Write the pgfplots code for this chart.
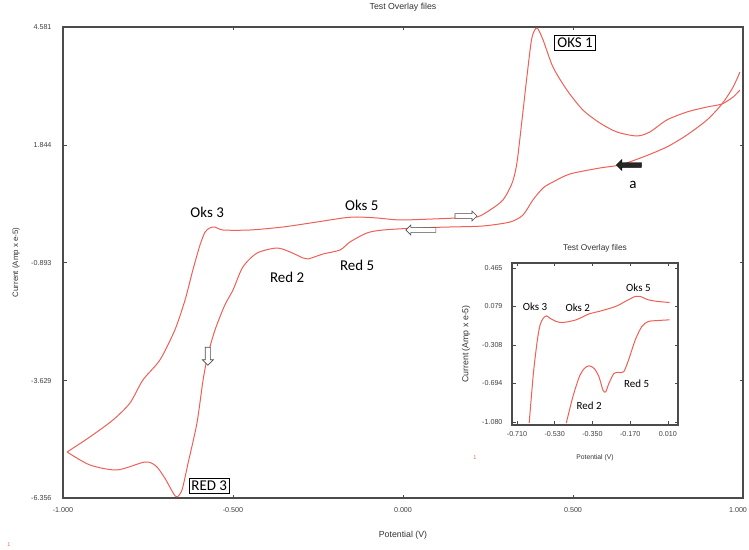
\documentclass[border=0pt]{standalone}
\usepackage{pgfplots}
\pgfplotsset{compat=1.18}
\usepackage{fontspec}
\setmainfont{Liberation Sans}
\newfontfamily\notefont{Carlito}
\usetikzlibrary{shapes.arrows}
\definecolor{cvred}{RGB}{238,96,86}
\definecolor{framegray}{RGB}{75,75,75}

% forward (anodic) and reverse (cathodic) branches of the voltammogram
\pgfplotstableread{
x y
-0.988 -5.287
-0.921 -4.939
-0.853 -4.544
-0.803 -4.150
-0.765 -3.616
-0.715 -3.151
-0.671 -2.455
-0.641 -1.758
-0.618 -1.061
-0.597 -0.481
-0.582 -0.179
-0.568 -0.086
-0.553 -0.063
-0.529 -0.133
-0.450 -0.133
-0.353 -0.063
-0.253 0.053
-0.176 0.146
-0.135 0.169
-0.076 0.146
-0.009 0.100
0.088 0.123
0.159 0.146
0.218 0.169
0.256 0.332
0.294 0.564
0.321 0.959
0.335 1.423
0.350 2.422
0.365 3.466
0.379 4.326
0.394 4.558
0.412 4.279
0.441 3.652
0.482 3.118
0.529 2.654
0.579 2.352
0.629 2.143
0.688 2.050
0.726 2.143
0.776 2.422
0.835 2.607
0.894 2.723
0.938 2.793
0.971 2.956
0.991 3.118
}\anodic

\pgfplotstableread{
x y
-0.988 -5.287
-0.921 -5.589
-0.841 -5.705
-0.759 -5.520
-0.727 -5.610
-0.700 -5.900
-0.676 -6.240
-0.665 -6.330
-0.650 -6.170
-0.632 -5.543
-0.606 -4.614
-0.588 -3.616
-0.574 -3.035
-0.553 -2.455
-0.524 -1.874
-0.500 -1.526
-0.471 -0.992
-0.429 -0.667
-0.371 -0.551
-0.332 -0.644
-0.294 -0.783
-0.279 -0.806
-0.235 -0.690
-0.185 -0.597
-0.156 -0.411
-0.106 -0.202
-0.059 -0.133
0.041 -0.086
0.138 -0.063
0.235 -0.040
0.315 0.053
0.353 0.216
0.382 0.564
0.412 0.843
0.441 0.982
0.491 1.168
0.579 1.307
0.638 1.377
0.706 1.562
0.776 1.795
0.835 2.073
0.894 2.422
0.938 2.793
0.971 3.188
0.991 3.536
}\cathodic

% enlarged window, -0.71 V to 0.01 V
\pgfplotstableread{
x y
-0.652 -1.091
-0.632 -0.593
-0.613 -0.257
-0.600 -0.106
-0.585 -0.039
-0.569 -0.015
-0.553 -0.039
-0.522 -0.072
-0.491 -0.082
-0.428 -0.055
-0.366 0.005
-0.319 0.029
-0.240 0.079
-0.194 0.129
-0.146 0.180
-0.123 0.180
-0.084 0.146
-0.037 0.129
0.018 0.119
}\zoomanodic

\pgfplotstableread{
x y
-0.475 -1.091
-0.444 -0.829
-0.413 -0.627
-0.389 -0.543
-0.366 -0.516
-0.342 -0.543
-0.319 -0.627
-0.300 -0.761
-0.287 -0.778
-0.272 -0.694
-0.248 -0.593
-0.225 -0.583
-0.201 -0.576
-0.178 -0.459
-0.146 -0.257
-0.115 -0.123
-0.084 -0.072
-0.037 -0.062
0.018 -0.055
}\zoomcathodic

\pgfplotsset{
  cvframe/.style={
    scale only axis,
    axis line style={framegray, line width=1.1bp},
    tick style={framegray, line width=0.6bp},
    major tick length=3.5bp,
    tick align=inside,
    ticklabel style={font=\fontsize{7.2}{8}\selectfont, text=black!75},
  },
  cvline/.style={cvred, line width=1.0bp, smooth, tension=0.45, no markers},
}

\begin{document}
\begin{tikzpicture}
\path[use as bounding box] (0,0) rectangle (749bp,550bp);

\begin{axis}[
  cvframe,
  at={(63bp,52bp)}, anchor=south west,
  width=680bp, height=471bp,
  xmin=-1, xmax=1, ymin=-6.356, ymax=4.581,
  xtick={-1,-0.5,0,0.5,1},
  xticklabels={-1.000,-0.500,0.000,0.500,\makebox[0pt][c]{\hspace*{-10bp}1.000}},
  ytick={-6.356,-3.629,-0.893,1.844,4.581},
  yticklabels={-6.356,-3.629,-0.893,1.844,4.581},
  xticklabel style={yshift=-6bp},
  yticklabel style={xshift=-8bp},
  title={Test Overlay files},
  every axis title/.style={at={(axis description cs:0.5,1)}, anchor=center, yshift=20bp, font=\fontsize{8.8}{10}\selectfont, text=black!80},
  xlabel={Potential (V)},
  ylabel={Current (Amp x e-5)},
  every axis x label/.style={at={(axis description cs:0.5,0)}, anchor=center, yshift=-37bp, font=\fontsize{8.8}{10}\selectfont, text=black!80},
  every axis y label/.style={at={(axis description cs:0,0.5)}, xshift=-47bp, rotate=90, anchor=center, font=\fontsize{7.9}{9}\selectfont, text=black!80},
  clip=false,
]
\addplot[cvline] table {\anodic};
\addplot[cvline] table {\cathodic};

\begin{scope}[font=\notefont\fontsize{15}{17}\selectfont]
\node at (axis cs:-0.576,0.285) {Oks 3};
\node at (axis cs:-0.121,0.448) {Oks 5};
\node at (axis cs:-0.341,-1.224) {Red 2};
\node at (axis cs:-0.135,-0.945) {Red 5};
\node at (axis cs:0.676,0.912) {a};
\node[draw=black, fill=white, line width=0.8bp, inner sep=2.5bp] at (axis cs:0.506,4.21) {OKS 1};
\node[draw=black, fill=white, line width=0.8bp, inner sep=2.5bp] at (axis cs:-0.570,-6.08) {RED 3};
\end{scope}

% scan-direction arrows
\node[single arrow, draw=black!70, fill=white, line width=0.6bp, minimum height=22bp, minimum width=10bp,
      single arrow head extend=1.5bp, inner sep=1bp] at (axis cs:0.182,0.192) {};
\node[single arrow, draw=black!70, fill=white, line width=0.6bp, minimum height=30bp, minimum width=10bp,
      single arrow head extend=1.5bp, inner sep=1bp, shape border rotate=180] at (axis cs:0.056,-0.133) {};
\node[single arrow, draw=black!70, fill=white, line width=0.6bp, minimum height=18bp, minimum width=11bp,
      single arrow head extend=1.5bp, inner sep=1bp, shape border rotate=270] at (axis cs:-0.574,-3.035) {};
\node[single arrow, draw=black, fill=black!85, minimum height=25bp, minimum width=11bp,
      single arrow head extend=1.5bp, inner sep=1bp, shape border rotate=180] at (axis cs:0.668,1.377) {};
\end{axis}

\begin{axis}[
  cvframe,
  at={(512bp,125bp)}, anchor=south west,
  width=166bp, height=162bp,
  xmin=-0.734, xmax=0.058, ymin=-1.110, ymax=0.515,
  xtick={-0.71,-0.53,-0.35,-0.17,0.01},
  xticklabels={-0.710,-0.530,-0.350,-0.170,0.010},
  ytick={-1.080,-0.694,-0.308,0.079,0.465},
  yticklabels={-1.080,-0.694,-0.308,0.079,0.465},
  xticklabel style={yshift=-3bp},
  yticklabel style={xshift=-6bp},
  title={Test Overlay files},
  every axis title/.style={at={(axis description cs:0.5,1)}, anchor=center, yshift=15bp, font=\fontsize{8.4}{10}\selectfont, text=black!80},
  xlabel={Potential (V)},
  ylabel={Current (Amp x e-5)},
  every axis x label/.style={at={(axis description cs:0.5,0)}, anchor=center, yshift=-33bp, font=\fontsize{6.8}{8}\selectfont, text=black!80},
  every axis y label/.style={at={(axis description cs:0,0.5)}, xshift=-46bp, rotate=90, anchor=center, font=\fontsize{8.8}{10}\selectfont, text=black!80},
]
\addplot[cvline] table {\zoomanodic};
\addplot[cvline] table {\zoomcathodic};
\begin{scope}[font=\notefont\fontsize{11}{13}\selectfont]
\node at (axis cs:-0.624,0.079) {Oks 3};
\node at (axis cs:-0.420,0.062) {Oks 2};
\node at (axis cs:-0.131,0.264) {Oks 5};
\node at (axis cs:-0.366,-0.912) {Red 2};
\node at (axis cs:-0.139,-0.701) {Red 5};
\end{scope}
\end{axis}

% curve index markers
\node[text=cvred, font=\fontsize{5.5}{6}\selectfont] at (9bp,5bp) {1};
\node[text=cvred, font=\fontsize{5.5}{6}\selectfont] at (475bp,92bp) {1};
\end{tikzpicture}
\end{document}
